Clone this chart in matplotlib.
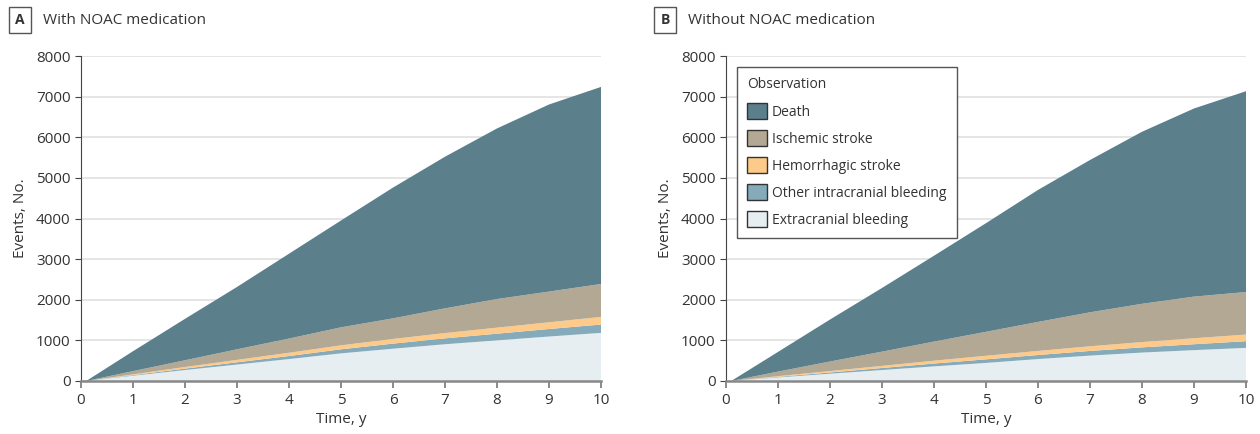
import matplotlib
matplotlib.use("Agg")
import matplotlib.pyplot as plt
from matplotlib.patches import Patch

plt.rcParams["font.family"] = ["Open Sans", "DejaVu Sans"]

years = [0.1, 1, 2, 3, 4, 5, 6, 7, 8, 9, 10]
categories = ["Extracranial bleeding", "Other intracranial bleeding",
              "Hemorrhagic stroke", "Ischemic stroke", "Death"]
colors = ["#e6eef2", "#85aab9", "#fdca8a", "#b3a894", "#5c7f8c"]

# panel A: with NOAC medication (events per category, stacked)
a_extra = [0, 130, 270, 405, 540, 680, 795, 905, 1000, 1095, 1185]
a_other = [0, 15, 35, 55, 75, 100, 125, 145, 165, 185, 205]
a_hem = [0, 18, 40, 60, 80, 98, 115, 130, 148, 165, 188]
a_isch = [0, 80, 165, 260, 350, 443, 507, 608, 705, 756, 810]
a_death = [0, 490, 1020, 1535, 2088, 2630, 3219, 3733, 4199, 4605, 4851]

# panel B: without NOAC medication
b_extra = [0, 88, 180, 270, 360, 445, 540, 625, 700, 760, 815]
b_other = [0, 14, 30, 50, 70, 88, 100, 115, 128, 145, 165]
b_hem = [0, 17, 35, 52, 70, 88, 100, 115, 130, 148, 163]
b_isch = [0, 112, 235, 350, 470, 590, 714, 836, 942, 1024, 1047]
b_death = [0, 485, 1033, 1568, 2114, 2674, 3249, 3749, 4235, 4631, 4943]

panels = [
    ("A", "With NOAC medication", [a_extra, a_other, a_hem, a_isch, a_death]),
    ("B", "Without NOAC medication", [b_extra, b_other, b_hem, b_isch, b_death]),
]

fig = plt.figure(figsize=(12.6, 4.34), dpi=100)
lefts = [81 / 1260, 726 / 1260]
txt = "#333333"

for (letter, title, series), left in zip(panels, lefts):
    ax = fig.add_axes([left, 1 - 381 / 434, 520 / 1260, 325 / 434])
    ax.stackplot(years, *series, colors=colors, linewidth=0)
    ax.set_xlim(0, 10)
    ax.set_ylim(0, 8000)
    ax.set_xticks(range(0, 11))
    ax.set_yticks(range(0, 8001, 1000))
    ax.yaxis.grid(True, color="#e0e0e0", lw=1.2)
    ax.set_axisbelow(True)
    for s in ("top", "right"):
        ax.spines[s].set_visible(False)
    ax.spines["left"].set_color("#444444")
    ax.spines["bottom"].set_color("#888888")
    ax.spines["bottom"].set_linewidth(1.8)
    ax.tick_params(axis="y", colors="#444444", labelcolor=txt,
                   labelsize=11, length=4)
    ax.tick_params(axis="x", colors="#777777", labelcolor=txt,
                   labelsize=11, length=5, width=1.2)
    ax.set_xlabel("Time, y", fontsize=11, color=txt, labelpad=3)
    ax.set_ylabel("Events, No.", fontsize=11, color=txt, labelpad=6)

    # panel letter in a box + title
    x0 = left - 61 / 1260
    fig.text(x0, 1 - 20 / 434, letter, fontsize=10, fontweight="bold",
             color=txt, ha="center", va="center",
             bbox=dict(boxstyle="square,pad=0.45", fc="white",
                       ec="#555555", lw=1))
    fig.text(x0 + 23 / 1260, 1 - 20 / 434, title, fontsize=11,
             color=txt, ha="left", va="center")

    if letter == "B":
        handles = [Patch(facecolor=c, edgecolor="#333333", lw=1, label=n)
                   for n, c in zip(categories[::-1], colors[::-1])]
        leg = ax.legend(handles=handles, title="Observation",
                        loc="upper left", bbox_to_anchor=(0.021, 0.966),
                        borderaxespad=0,
                        fontsize=10, title_fontsize=10,
                        frameon=True, fancybox=False, framealpha=1,
                        edgecolor="#555555", handlelength=1.4,
                        handleheight=1.4, handletextpad=0.35,
                        labelspacing=0.75, alignment="left",
                        borderpad=0.75)
        leg.get_frame().set_linewidth(1)
        leg.get_title().set_color(txt)
        for t in leg.get_texts():
            t.set_color(txt)

fig.savefig("out.png", dpi=100)
